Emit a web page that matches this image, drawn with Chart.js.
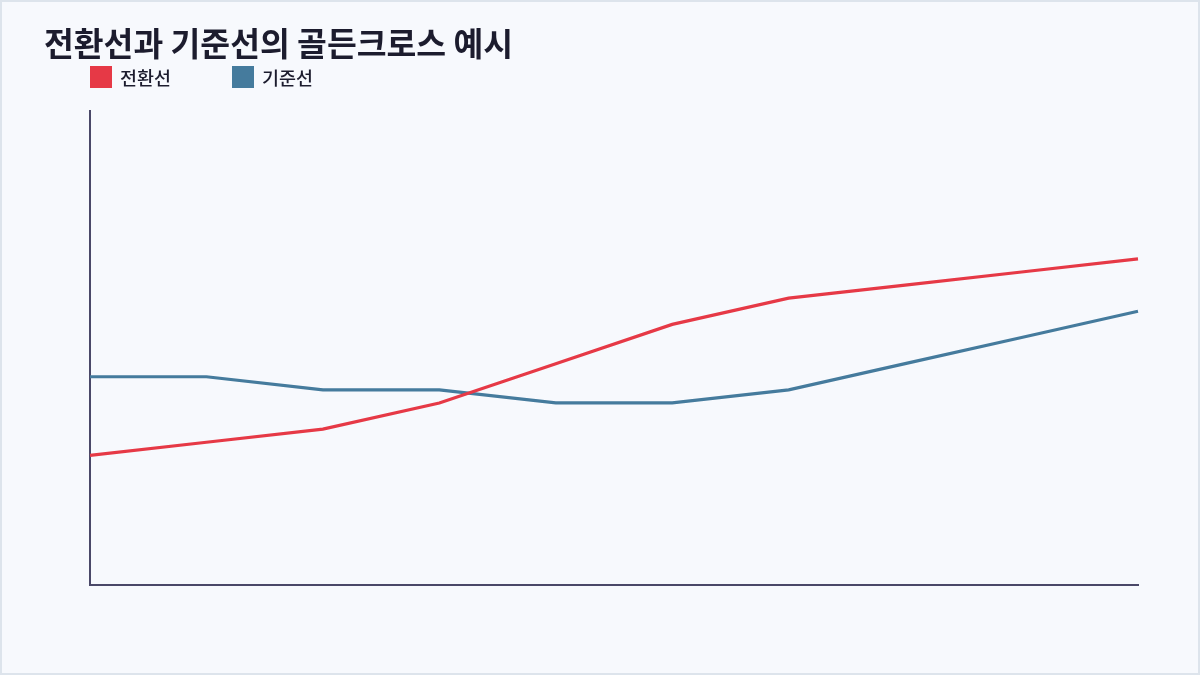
<!DOCTYPE html>
<html lang="ko">
<head>
<meta charset="utf-8">
<title>전환선과 기준선의 골든크로스 예시</title>
<script src="https://cdn.jsdelivr.net/npm/chart.js@4.4.1/dist/chart.umd.min.js"></script>
<style>
  html, body { margin: 0; padding: 0; }
  body { width: 1200px; height: 675px; overflow: hidden; }
  .wrap {
    width: 1200px; height: 675px; box-sizing: border-box;
    background: #f7f9fd; border: 2px solid #dde4ec;
  }
  canvas { display: block; }
</style>
</head>
<body>
<div class="wrap">
  <canvas id="crossChart" width="1196" height="671"></canvas>
</div>
<script>
// 기간 (x축 라벨은 표시하지 않음)
const periods = ['1', '2', '3', '4', '5', '6', '7', '8', '9', '10'];
// 전환선 / 기준선 값
const conversionLine = [100, 101, 102, 104, 107, 110, 112, 113, 114, 115];
const baseLine = [106, 106, 105, 105, 104, 104, 105, 107, 109, 111];
const seriesNames = ['전환선', '기준선'];
const seriesColors = ['#e63946', '#457b9d'];

// 범례를 직접 그림 (박스 간격을 원본에 맞추기 위해)
const customLegend = {
    id: 'customLegend',
    afterDraw(chart) {
        const ctx = chart.ctx;
        const left = chart.chartArea.left;
        const offsets = [0, 142];
        ctx.save();
        ctx.font = '500 18.5px "Noto Sans CJK KR", "Noto Sans", sans-serif';
        ctx.textBaseline = 'middle';
        seriesNames.forEach((name, i) => {
            const x = left + offsets[i];
            ctx.fillStyle = seriesColors[i];
            ctx.fillRect(x, 64, 22, 22);
            ctx.fillStyle = '#1c1c2e';
            ctx.fillText(name, x + 30, 76);
        });
        ctx.restore();
    }
};

const ctx = document.getElementById('crossChart').getContext('2d');

new Chart(ctx, {
    type: 'line',
    data: {
        labels: periods,
        datasets: [
            {
                label: seriesNames[0],
                data: conversionLine,
                borderColor: seriesColors[0],
                backgroundColor: seriesColors[0],
                borderWidth: 3.2,
                pointRadius: 0,
                tension: 0
            },
            {
                label: seriesNames[1],
                data: baseLine,
                borderColor: seriesColors[1],
                backgroundColor: seriesColors[1],
                borderWidth: 3.2,
                pointRadius: 0,
                tension: 0
            }
        ]
    },
    options: {
        responsive: false,
        animation: false,
        layout: {
            padding: { left: 42, right: 60, top: 0, bottom: 88 }
        },
        scales: {
            x: {
                grid: { display: false },
                ticks: { display: false },
                border: { color: '#4a4868', width: 2 },
                afterFit: (scale) => { scale.height = 0; }
            },
            y: {
                min: 90.1,
                max: 126.3,
                grid: { display: false },
                ticks: { display: false },
                border: { color: '#4a4868', width: 2 },
                afterFit: (scale) => { scale.width = 46; }
            }
        },
        plugins: {
            legend: { display: false },
            tooltip: { enabled: false },
            title: {
                display: true,
                text: '전환선과 기준선의 골든크로스 예시',
                align: 'start',
                color: '#1c1c2e',
                font: { family: '"Noto Sans CJK KR", "Noto Sans", sans-serif', size: 32.4, weight: 'bold', lineHeight: 1.2 },
                padding: { top: 22, bottom: 48 }
            }
        }
    },
    plugins: [customLegend]
});
</script>
</body>
</html>
